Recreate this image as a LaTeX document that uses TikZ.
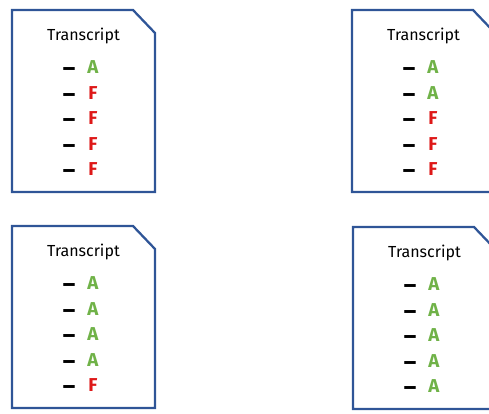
\documentclass[tikz,border=0pt]{standalone}
\usepackage{fontspec}
\setmainfont{Fira Sans}

\definecolor{sheetblue}{RGB}{47,85,151}
\definecolor{passgreen}{RGB}{112,178,72}
\definecolor{failred}{RGB}{222,24,24}

\tikzset{every picture/.style={line width=0.75pt}}
\tikzset{
  sheet/.style={draw=sheetblue, line width=1.7pt, line join=miter},
  heading/.style={anchor=base, inner sep=0.75pt, font=\fontsize{12}{14}\selectfont},
  bullet/.style={anchor=base, inner sep=0.75pt, font=\bfseries\fontsize{18}{18}\selectfont},
  grade/.style={anchor=base, inner sep=0.75pt, font=\bfseries\fontsize{14}{16}\selectfont}
}

% one transcript sheet: name, left, top, list of grade/colour
\newcommand{\transcriptsheet}[4]{%
  \begin{scope}[shift={(#2,#3)}]
    %Shape: folded sheet
    \draw[sheet] (0,0) -- (121,0) -- (143,23) -- (143,182) -- (0,182) -- cycle ;
    % Text Node
    \node[heading] (#1-title) at (71.5,30) {Transcript};
    \foreach \g/\c [count=\i] in {#4} {
      % Text Node
      \node[bullet] (#1-dash\i) at (57,{66.5+25.6*(\i-1)}) {–};
      % Text Node
      \node[grade, text=\c] (#1-grade\i) at (81,{63.5+25.6*(\i-1)}) {\g};
    }
  \end{scope}
}

\begin{document}
\begin{tikzpicture}[x=0.75pt,y=0.75pt,yscale=-1,xscale=1]
\useasboundingbox (0,0) rectangle (489,414);
\clip (0,0) rectangle (489,414);

\transcriptsheet{topleft}{12}{10}{A/passgreen,F/failred,F/failred,F/failred,F/failred}
\transcriptsheet{topright}{352}{10}{A/passgreen,A/passgreen,F/failred,F/failred,F/failred}
\transcriptsheet{bottomleft}{12}{226}{A/passgreen,A/passgreen,A/passgreen,A/passgreen,F/failred}
\transcriptsheet{bottomright}{353}{227}{A/passgreen,A/passgreen,A/passgreen,A/passgreen,A/passgreen}
\end{tikzpicture}
\end{document}
